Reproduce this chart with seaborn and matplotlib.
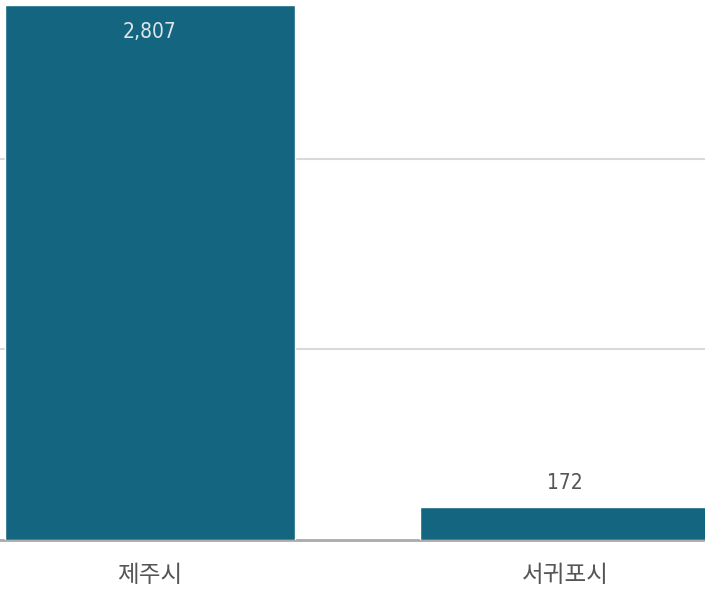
import matplotlib
matplotlib.use("Agg")
import matplotlib.pyplot as plt
import seaborn as sns

# data
regions = ["제주시", "서귀포시"]
counts = [2807, 172]
value_labels = ["2,807", "172"]

sns.set_theme(style="white")
plt.rcParams['font.family'] = ['Noto Sans CJK KR', 'DejaVu Sans']

bar_color = "#136580"

fig = plt.figure(figsize=(7.05, 5.95), dpi=100)
ax = fig.add_axes([0, 55 / 595, 1, 540 / 595])

sns.barplot(x=regions, y=counts, color=bar_color, saturation=1, width=0.7, ax=ax, zorder=2)

ax.set_xlim(-0.361, 1.337)
ax.set_ylim(0, 2833)
ax.set_yticks([1000, 2000])
ax.yaxis.grid(True, color="#d9d9d9", linewidth=1.5, zorder=0)
ax.set_yticklabels([])
ax.tick_params(axis="y", length=0)
ax.tick_params(axis="x", length=0, pad=17, labelsize=17, labelcolor="#555555")
ax.set_xlabel("")
ax.set_ylabel("")

for s in ["top", "right", "left"]:
    ax.spines[s].set_visible(False)
ax.spines["bottom"].set_color("#aaaaaa")
ax.spines["bottom"].set_linewidth(2)
ax.spines["bottom"].set_zorder(1)

# value labels: inside the tall bar, above the short one
for patch, lab, val in zip(ax.patches, value_labels, counts):
    cx = patch.get_x() + patch.get_width() / 2
    if val > 1000:
        ax.annotate(lab, (cx, val), xytext=(0, -27), textcoords="offset pixels",
                    ha="center", va="center", fontsize=15, color="#dde6ea",
                    family=["DejaVu Sans"], fontstretch="condensed")
    else:
        ax.annotate(lab, (cx, val), xytext=(0, 24), textcoords="offset pixels",
                    ha="center", va="center", fontsize=15, color="#555555",
                    family=["DejaVu Sans"], fontstretch="condensed")

fig.savefig("out.png", dpi=100)
